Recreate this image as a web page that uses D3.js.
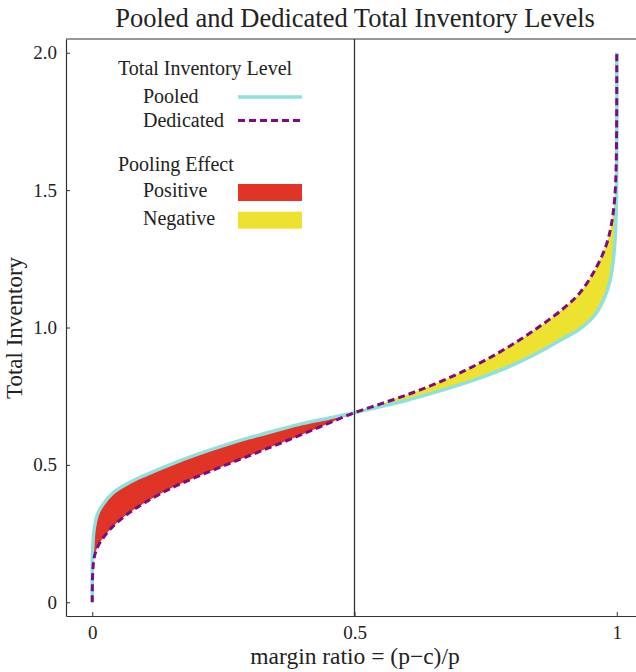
<!DOCTYPE html>
<html>
<head>
<meta charset="utf-8">
<script src="https://cdn.jsdelivr.net/npm/d3@7"></script>
<style>
  body { margin: 0; background: #fff; }
  text { font-family: "Liberation Serif", "DejaVu Serif", serif; fill: #222; }
</style>
</head>
<body>
<svg id="chart" width="636" height="672"></svg>
<script>
// margin ratio grid
var ratio = [0, 0.001, 0.004, 0.01, 0.02, 0.04, 0.07, 0.1, 0.15, 0.2, 0.25, 0.3, 0.35, 0.4, 0.45, 0.5,
	0.55, 0.6, 0.65, 0.7, 0.75, 0.8, 0.85, 0.9, 0.93, 0.96, 0.98, 0.99, 0.996, 0.999, 1];
var pooled = [0, 0.20, 0.27, 0.32, 0.355, 0.399, 0.435, 0.462, 0.502, 0.538, 0.570, 0.599, 0.625, 0.650, 0.670, 0.690,
	0.712, 0.735, 0.762, 0.791, 0.824, 0.862, 0.908, 0.962, 0.995, 1.05, 1.125, 1.197, 1.30, 1.43, 2.0];
var dedicated = [0, 0.11, 0.165, 0.200, 0.232, 0.277, 0.325, 0.362, 0.415, 0.457, 0.496, 0.534, 0.572, 0.611, 0.651, 0.690,
	0.722, 0.755, 0.792, 0.834, 0.882, 0.937, 1.000, 1.072, 1.127, 1.215, 1.300, 1.378, 1.47, 1.6, 2.0];

var xTicks = [0, 0.5, 1];
var xTickLabels = ["0", "0.5", "1"];
var yTicks = [0, 0.5, 1.0, 1.5, 2.0];
var yTickLabels = ["0", "0.5", "1.0", "1.5", "2.0"];

var lineNames = ["Pooled", "Dedicated"];
var effectNames = ["Positive", "Negative"];

var svg = d3.select("#chart");
var margin = {top: 39, left: 66},
	width = 577, height = 577;

var x = d3.scaleLinear().domain([-0.05, 1.05]).range([0, width]);
var y = d3.scaleLinear().domain([-0.05, 2.05]).range([height, 0]);

var g = svg.append("g")
	.attr("transform", "translate(" + margin.left + "," + margin.top + ")");

var data = ratio.map(function(r, i) {
	return {r: r, p: pooled[i], d: dedicated[i]};
});

var curve = d3.curveCatmullRom.alpha(0.5);

var area = d3.area()
	.x(function(d) { return x(d.r); })
	.y0(function(d) { return y(d.d); })
	.y1(function(d) { return y(d.p); })
	.curve(curve);

g.append("path")
	.datum(data.filter(function(d) { return d.r <= 0.5; }))
	.attr("fill", "#e03426")
	.attr("d", area);

g.append("path")
	.datum(data.filter(function(d) { return d.r >= 0.5; }))
	.attr("fill", "#ece22f")
	.attr("d", area);

var linePooled = d3.line()
	.x(function(d) { return x(d.r); })
	.y(function(d) { return y(d.p); })
	.curve(curve);
var lineDedicated = d3.line()
	.x(function(d) { return x(d.r); })
	.y(function(d) { return y(d.d); })
	.curve(curve);

g.append("path")
	.datum(data)
	.attr("fill", "none")
	.attr("stroke", "#8ee1dd")
	.attr("stroke-width", 3.5)
	.attr("d", linePooled);

g.append("path")
	.datum(data)
	.attr("fill", "none")
	.attr("stroke", "#7f0a82")
	.attr("stroke-width", 3)
	.attr("stroke-dasharray", "7,4")
	.attr("d", lineDedicated);

// vertical line at 0.5
g.append("line")
	.attr("x1", x(0.5)).attr("x2", x(0.5))
	.attr("y1", 0).attr("y2", height)
	.attr("stroke", "#333")
	.attr("stroke-width", 1.3);

// axes, ticks pointing inward
var xAxis = g.append("g")
	.attr("transform", "translate(0," + height + ")")
	.call(d3.axisBottom(x).tickValues(xTicks)
		.tickFormat(function(d, i) { return xTickLabels[i]; })
		.tickSizeInner(-4).tickSizeOuter(0).tickPadding(10));
var yAxis = g.append("g")
	.call(d3.axisLeft(y).tickValues(yTicks)
		.tickFormat(function(d, i) { return yTickLabels[i]; })
		.tickSizeInner(-4).tickSizeOuter(0).tickPadding(9));

[xAxis, yAxis].forEach(function(a) {
	a.select(".domain").attr("stroke", "#333").attr("stroke-width", 1.2);
	a.selectAll(".tick line").attr("stroke", "#333");
	a.selectAll(".tick text")
		.style("font-family", "'Liberation Serif', serif")
		.style("font-size", "19px")
		.attr("fill", "#222");
});

// top frame
g.append("line")
	.attr("x1", 0).attr("x2", width)
	.attr("y1", 0).attr("y2", 0)
	.attr("stroke", "#333").attr("stroke-width", 1.2);

// titles
svg.append("text")
	.attr("x", 355).attr("y", 27)
	.attr("text-anchor", "middle")
	.style("font-size", "26.5px")
	.text("Pooled and Dedicated Total Inventory Levels");

svg.append("text")
	.attr("x", 355).attr("y", 664)
	.attr("text-anchor", "middle")
	.style("font-size", "23.5px")
	.text("margin ratio = (p\u2212c)/p");

svg.append("text")
	.attr("transform", "translate(22," + 328 + ") rotate(-90)")
	.attr("text-anchor", "middle")
	.style("font-size", "23px")
	.text("Total Inventory");

// legend
var leg = svg.append("g");
leg.append("text").attr("x", 118).attr("y", 75).style("font-size", "20px").text("Total Inventory Level");
leg.append("text").attr("x", 118).attr("y", 171).style("font-size", "20px").text("Pooling Effect");

var lineStyles = [
	{stroke: "#8ee1dd", width: 3.5, dash: null},
	{stroke: "#7f0a82", width: 3, dash: "7,4"}
];
lineNames.forEach(function(name, i) {
	var yy = 97 + i * 23.5;
	leg.append("text").attr("x", 143).attr("y", yy + 6).style("font-size", "20px").text(name);
	leg.append("line")
		.attr("x1", 238).attr("x2", 302).attr("y1", yy).attr("y2", yy)
		.attr("stroke", lineStyles[i].stroke)
		.attr("stroke-width", lineStyles[i].width)
		.attr("stroke-dasharray", lineStyles[i].dash);
});

var effectColors = ["#e03426", "#ece22f"];
effectNames.forEach(function(name, i) {
	var yy = 184 + i * 27.7;
	leg.append("text").attr("x", 143).attr("y", yy + 13).style("font-size", "20px").text(name);
	leg.append("rect")
		.attr("x", 238).attr("y", yy).attr("width", 64).attr("height", 17)
		.attr("fill", effectColors[i]);
});
</script>
</body>
</html>
